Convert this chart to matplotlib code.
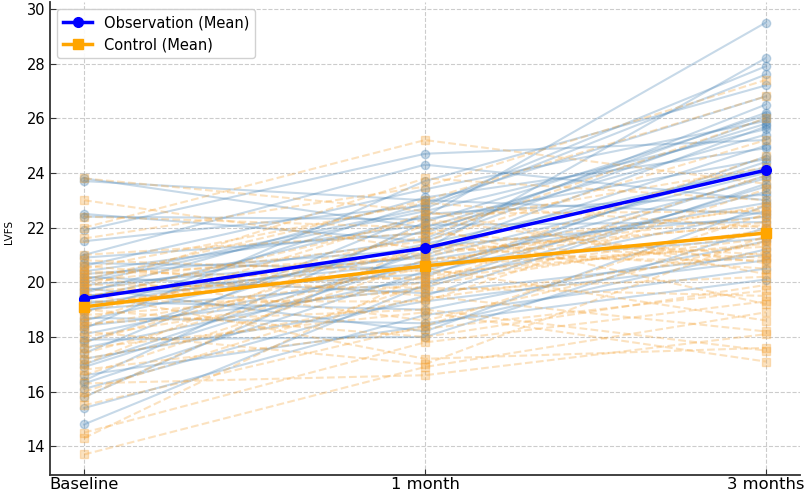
import matplotlib
matplotlib.use("Agg")
import matplotlib.pyplot as plt

timepoints = ["Baseline", "1 month", "3 months"]

obs_base = [23.8, 23.7, 22.5, 22.4, 21.9, 21.5, 21.0, 20.9, 20.7, 20.6, 20.4, 20.3, 20.2, 20.0, 19.9,
            19.8, 19.7, 19.6, 19.5, 19.4, 19.3, 19.2, 19.0, 18.9, 18.7, 18.6, 18.4, 18.3, 18.1, 17.9,
            17.8, 17.6, 17.4, 17.2, 17.0, 16.9, 16.6, 16.4, 16.3, 16.1, 15.8, 15.4, 14.8, 19.5, 20.1]
obs_m1 = [22.0, 23.0, 21.5, 22.3, 24.7, 22.8, 24.3, 21.8, 20.5, 23.4, 22.1, 21.2, 19.6, 22.6, 20.9,
          18.2, 21.6, 23.1, 20.3, 22.4, 19.0, 21.0, 20.0, 22.9, 18.5, 21.4, 19.8, 23.7, 20.6, 18.0,
          21.9, 20.2, 22.5, 19.3, 21.1, 20.8, 18.4, 22.2, 20.4, 19.5, 21.3, 18.8, 19.9, 20.7, 22.7]
obs_m3 = [25.8, 22.5, 26.0, 24.5, 25.2, 27.9, 23.0, 26.2, 23.8, 25.9, 22.2, 28.2, 21.0, 25.6, 24.0,
          22.8, 26.5, 24.9, 23.3, 29.5, 21.5, 25.0, 22.6, 26.8, 20.1, 24.2, 23.5, 27.2, 21.8, 22.0,
          25.4, 24.6, 23.2, 20.8, 25.7, 22.9, 21.2, 26.1, 24.4, 23.6, 22.4, 20.5, 23.9, 21.6, 27.6]

ctl_base = [23.8, 23.0, 22.4, 22.0, 21.6, 21.0, 20.8, 20.6, 20.5, 20.3, 20.2, 20.0, 19.9, 19.8, 19.7,
            19.6, 19.5, 19.4, 19.3, 19.2, 19.0, 18.9, 18.8, 18.6, 18.4, 18.2, 18.0, 17.8, 17.6, 17.4,
            17.2, 17.0, 16.8, 16.6, 16.3, 16.0, 15.8, 15.5, 14.5, 14.3, 13.7, 20.4, 20.1, 19.1, 18.5]
ctl_m1 = [22.6, 21.2, 22.0, 25.2, 23.5, 21.8, 20.4, 19.5, 22.9, 20.9, 18.6, 21.5, 19.8, 23.8, 20.2,
          17.2, 21.0, 22.3, 19.3, 20.6, 18.0, 21.7, 19.7, 22.5, 20.5, 17.0, 20.0, 21.3, 18.9, 20.8,
          19.4, 22.1, 18.3, 20.7, 16.6, 19.9, 21.4, 18.4, 17.8, 20.3, 16.9, 20.1, 23.0, 21.1, 19.0]
ctl_m3 = [20.3, 22.7, 19.2, 23.6, 27.4, 21.0, 24.6, 18.2, 22.0, 20.8, 21.5, 25.2, 19.5, 23.0, 21.9,
          17.6, 22.4, 20.7, 23.4, 21.3, 19.9, 26.0, 20.2, 22.6, 18.6, 21.7, 23.9, 20.5, 17.1, 22.2,
          21.1, 24.2, 19.7, 22.8, 18.1, 21.8, 20.9, 22.5, 19.3, 21.4, 18.9, 21.6, 26.8, 22.1, 17.5]

obs_mean = [19.4, 21.25, 24.1]
ctl_mean = [19.1, 20.6, 21.8]

fig = plt.figure(figsize=(8.09, 4.96), dpi=100)
ax = fig.add_axes([50 / 809, 21 / 496, 750 / 809, 473 / 496])
x = list(range(len(timepoints)))

for i in range(len(obs_base)):
    ax.plot(x, [obs_base[i], obs_m1[i], obs_m3[i]], color="steelblue", alpha=0.3,
            lw=1.5, marker="o", ms=6, zorder=2)
for i in range(len(ctl_base)):
    ax.plot(x, [ctl_base[i], ctl_m1[i], ctl_m3[i]], color="#f5a030", alpha=0.3,
            lw=1.5, ls="--", marker="s", ms=6, zorder=2)

ax.plot(x, obs_mean, color="blue", lw=2.5, marker="o", ms=7, label="Observation (Mean)", zorder=5)
ax.plot(x, ctl_mean, color="orange", lw=2.5, marker="s", ms=7, label="Control (Mean)", zorder=5)

ax.set_xlim(-0.1, 2.1)
ax.set_ylim(12.95, 30.25)
ax.set_xticks(x)
ax.set_xticklabels(timepoints, fontsize=11.8)
ax.set_yticks(range(14, 31, 2))
ax.tick_params(axis="y", labelsize=10.5)
ax.tick_params(direction="in", length=4, color="#333333")
ax.tick_params(axis="x", pad=1.5)
ax.set_ylabel("LVFS", fontsize=7.5)
ax.yaxis.set_label_coords(-0.048, 0.514)
ax.grid(True, ls="--", color="#cccccc", lw=0.8)
ax.set_axisbelow(True)
for s in ["top", "right"]:
    ax.spines[s].set_visible(False)
ax.spines["left"].set_color("#333333")
ax.spines["bottom"].set_color("#333333")
ax.spines["left"].set_linewidth(1.3)
ax.spines["bottom"].set_linewidth(1.3)
ax.legend(loc="upper left", fontsize=10.5, framealpha=0.9)

fig.savefig("out.png", dpi=100)
